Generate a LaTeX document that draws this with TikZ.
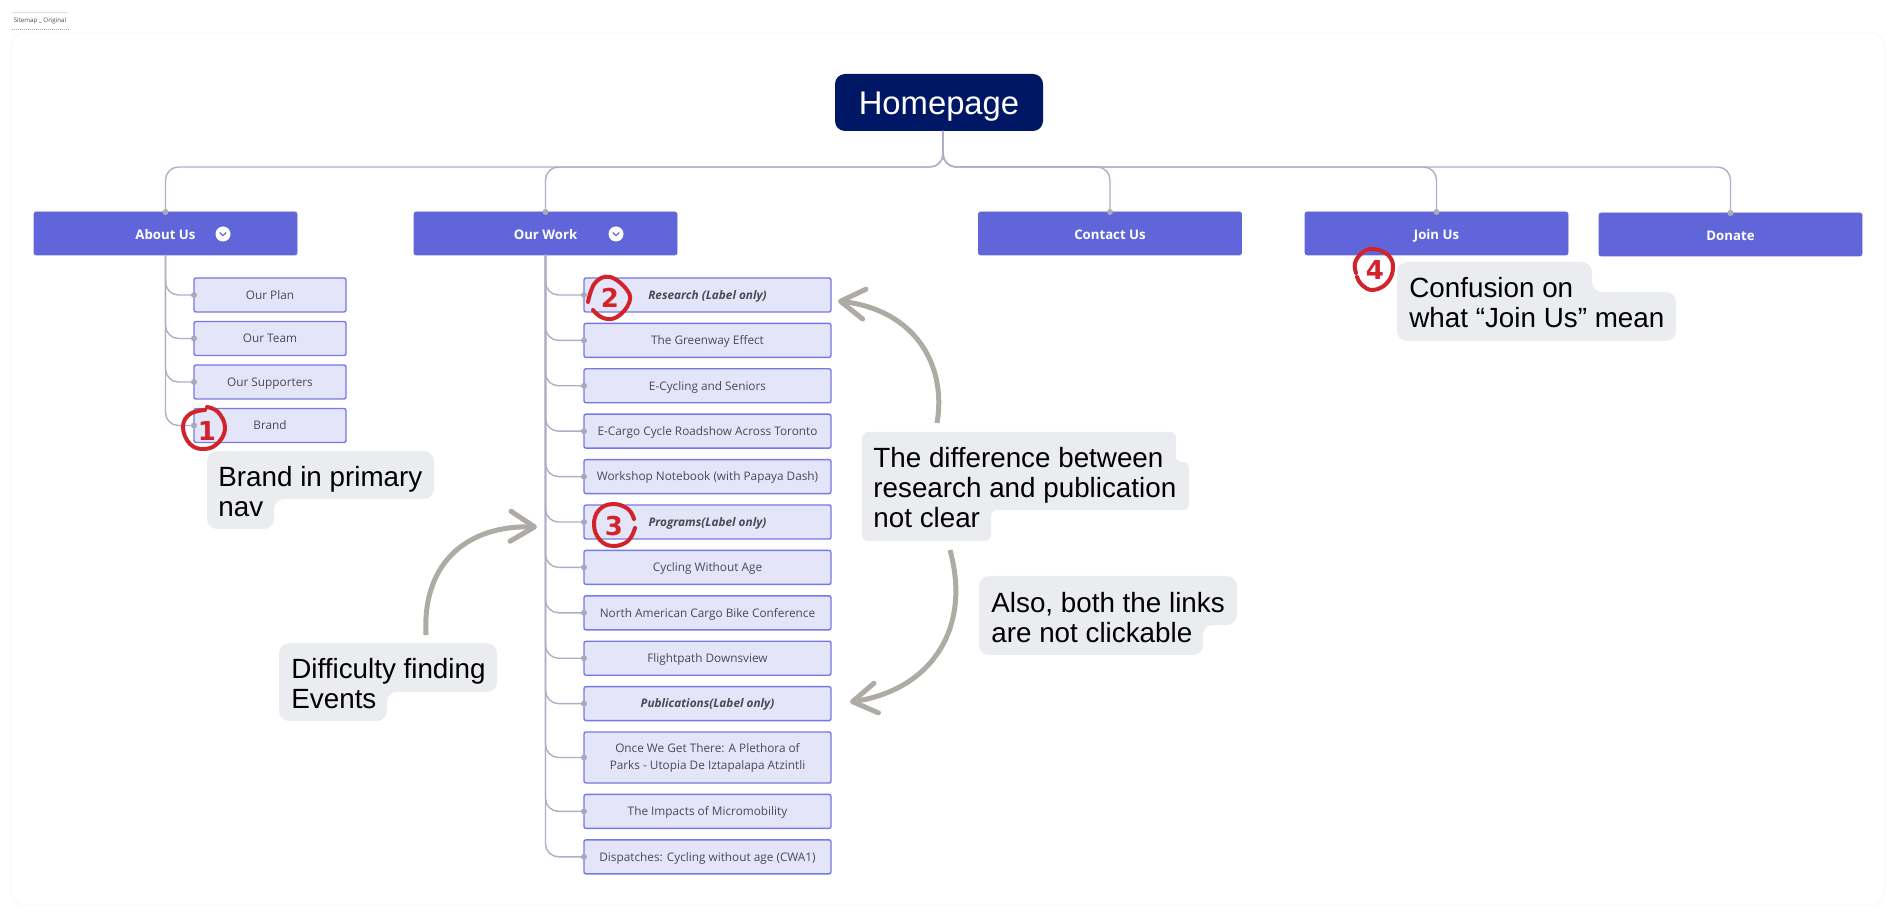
\documentclass[tikz,border=0pt]{standalone}
\usepackage{fontspec}
\setmainfont{Open Sans}
\newfontfamily\notefont{Liberation Sans}
\newfontfamily\markfont{DejaVu Sans}
\usetikzlibrary{positioning,arrows.meta}
\definecolor{navy1}{HTML}{001766}
\definecolor{blue1}{HTML}{6066D9}
\definecolor{blue2}{HTML}{E4E5F8}
\definecolor{blue3}{HTML}{7478E8}
\definecolor{link1}{HTML}{B0AEC4}
\definecolor{dot1}{HTML}{A9A9B8}
\definecolor{note1}{HTML}{EBECF0}
\definecolor{arrow1}{HTML}{ADABA3}
\definecolor{mark1}{HTML}{D2232A}
\definecolor{text1}{HTML}{4A4A55}
\tikzset{
  topbox/.style={fill=blue1, draw=blue1, line width=.3pt, rounded corners=1pt, outer sep=0pt, inner sep=0pt, minimum width=131.5pt, minimum height=21.5pt, text height=6.5pt, text depth=0pt, text=white, font=\fontsize{6.6}{8}\selectfont\bfseries},
  subbox/.style={fill=blue2, draw=blue3, line width=.7pt, rounded corners=1pt, outer sep=0pt, inner sep=0pt, minimum height=17pt, text height=4.3pt, text depth=0pt, text=text1, align=center, font=\fontsize{5.9}{8.5}\selectfont},
  aboutbox/.style={subbox, minimum width=76pt},
  workbox/.style={subbox, minimum width=123.5pt},
  labelbox/.style={workbox, font=\fontsize{5.9}{8.5}\selectfont\bfseries\itshape},
  link/.style={draw=link1, line width=.7pt, rounded corners=6.5pt},
  linkdot/.style={fill=dot1},
  chevdot/.style={circle, fill=white, inner sep=0pt, minimum size=7.5pt},
  chevline/.style={draw=blue1, line width=.6pt},
  notefill/.style={fill=note1, rounded corners=5pt},
  notetext/.style={anchor=north west, inner sep=0pt, align=left, text=black, font=\notefont\fontsize{13.9}{15}\selectfont},
  notearrow/.style={draw=arrow1, line width=2.5pt, -{Straight Barb[length=12pt,width=15pt,round]}},
  redring/.style={draw=mark1, line width=2pt, line cap=round, line join=round},
  rednum/.style={inner sep=0pt, text=mark1, font=\markfont\fontsize{13}{13}\selectfont\bfseries},
}
\begin{document}
\begin{tikzpicture}[x=.5pt, y=-.5pt]
\useasboundingbox (0,0) rectangle (1891,914);
\draw[draw=black!3, line width=.4pt, rounded corners=7pt] (11,33) rectangle (1885,905);
\node[inner sep=0pt, minimum width=28pt, minimum height=8pt, text=text1, font=\fontsize{3.1}{4}\selectfont] (tag) at (40,21) {Sitemap \_ Original};
\draw[draw=black!35, dash pattern=on .4pt off .6pt, line width=.3pt] (tag.south west) -- (tag.south east);
\draw[draw=black!12, line width=.3pt] (tag.north west) -- (tag.north east);

% top row
\node[fill=navy1, rounded corners=5pt, inner sep=0pt, minimum width=104pt, minimum height=28.5pt, outer sep=0pt, text height=11.8pt, text depth=0pt, text=white, font=\notefont\fontsize{16.4}{18}\selectfont] (home) at (939,102.5) {Homepage};
\node[topbox] (t1) at (165.5,233.5) {About Us};
\node[topbox] (t2) at (545.5,233.5) {Our Work};
\node[topbox] (t3) at (1110,233.5) {Contact Us};
\node[topbox] (t4) at (1436.5,233.5) {Join Us};
\node[topbox] (t5) at (1730.5,234.5) {Donate};
\node[chevdot] (c1) at (223,234) {};
\node[chevdot] (c2) at (616,234) {};
\foreach \c in {c1,c2}
  \draw[chevline] ([shift={(-1.6pt,.7pt)}]\c.center) -- ++(1.6pt,-1.5pt) -- ++(1.6pt,1.5pt);

% about us column
\node[aboutbox] (a1) at (270,295) {Our Plan};
\node[aboutbox, below=4.75pt of a1] (a2) {Our Team};
\node[aboutbox, below=4.75pt of a2] (a3) {Our Supporters};
\node[aboutbox, below=4.75pt of a3] (a4) {Brand};

% our work column
\node[labelbox] (w1) at (707.5,295) {Research (Label only)};
\node[workbox, below=5.7pt of w1] (w2) {The Greenway Effect};
\node[workbox, below=5.7pt of w2] (w3) {E-Cycling and Seniors};
\node[workbox, below=5.7pt of w3] (w4) {E-Cargo Cycle Roadshow Across Toronto};
\node[workbox, below=5.7pt of w4] (w5) {Workshop Notebook (with Papaya Dash)};
\node[labelbox, below=5.7pt of w5] (w6) {Programs(Label only)};
\node[workbox, below=5.7pt of w6] (w7) {Cycling Without Age};
\node[workbox, below=5.7pt of w7] (w8) {North American Cargo Bike Conference};
\node[workbox, below=5.7pt of w8] (w9) {Flightpath Downsview};
\node[labelbox, below=5.7pt of w9] (w10) {Publications(Label only)};
\node[workbox, minimum height=25.5pt, text height=, text depth=, below=5.7pt of w10] (w11) {Once We Get There: A Plethora of\\Parks - Utopia De Iztapalapa Atzintli};
\node[workbox, below=5.7pt of w11] (w12) {The Impacts of Micromobility};
\node[workbox, below=5.7pt of w12] (w13) {Dispatches: Cycling without age (CWA1)};

% connectors
\coordinate (hub) at (943,167);
\coordinate (drop) at (943,131);
\foreach \t in {t1,t2,t3,t4,t5} {
  \draw[link] (drop) -- (hub) -| (\t.north);
  \fill[linkdot] (\t.north) circle (1.5pt);
}
\foreach \c in {a1,a2,a3,a4} {
  \draw[link] (t1.south) |- (\c.west);
  \fill[linkdot] (\c.west) circle (1.5pt);
}
\foreach \c in {w1,w2,w3,w4,w5,w6,w7,w8,w9,w10,w11,w12,w13} {
  \draw[link] (t2.south) |- (\c.west);
  \fill[linkdot] (\c.west) circle (1.5pt);
}

% notes
\fill[notefill] (207,451) -- (434,451) -- (434,499) -- (274,499) -- (274,529) -- (207,529) -- cycle;
\node[notetext] (n1) at (218,466) {Brand in primary\\nav};
\fill[notefill] (1397,262) -- (1592,262) -- (1592,292) -- (1676,292) -- (1676,341) -- (1397,341) -- cycle;
\node[notetext] (n2) at (1409,277) {Confusion on\\what “Join Us” mean};
\fill[notefill, rounded corners=3pt] (862,432) -- (1176,432) -- (1176,462) -- (1189,462) -- (1189,510) -- (991,510) -- (991,541) -- (862,541) -- cycle;
\node[notetext] (n3) at (873,447) {The difference between\\research and publication\\not clear};
\fill[notefill] (979,576) -- (1237,576) -- (1237,625) -- (1203,625) -- (1203,655) -- (979,655) -- cycle;
\node[notetext] (n4) at (991,592) {Also, both the links\\are not clickable};
\fill[notefill] (279,643) -- (497,643) -- (497,692) -- (387,692) -- (387,721) -- (279,721) -- cycle;
\node[notetext] (n5) at (291,658) {Difficulty finding\\Events};

% hand drawn arrows
\coordinate (r1) at (937,423);
\coordinate (r2) at (838,301);
\coordinate (r3) at (950,550);
\coordinate (r4) at (850,702);
\coordinate (r5) at (426,635);
\coordinate (r6) at (537,527);
\draw[notearrow] (r1) .. controls (947,365) and (915,310) .. (r2);
\draw[notearrow] (r3) .. controls (972,630) and (930,690) .. (r4);
\draw[notearrow] (r5) .. controls (422,560) and (470,525) .. (r6);

% red marks
\draw[redring] plot[smooth, tension=.7] coordinates {(207,407) (218,412) (225,427) (219,442) (205,449) (190,444) (183,427) (190,414) (205,410)};
\node[rednum] (m1) at (207,431) {1};
\draw[redring] plot[smooth, tension=.7] coordinates {(588,302) (595,283) (610,277) (627,290) (629,303) (617,317) (603,318) (593,310)};
\node[rednum] (m2) at (610,298) {2};
\draw[redring] plot[smooth, tension=.7] coordinates {(634,519) (628,509) (613,504) (599,510) (594,525) (600,540) (613,546) (628,541) (635,528)};
\node[rednum] (m3) at (614,526) {3};
\draw[redring] plot[smooth, tension=.7] coordinates {(1356,273) (1355,263) (1362,253) (1373,249) (1388,255) (1393,268) (1387,283) (1373,290) (1362,285) (1357,277)};
\node[rednum] (m4) at (1375,270) {4};
\end{tikzpicture}
\end{document}
